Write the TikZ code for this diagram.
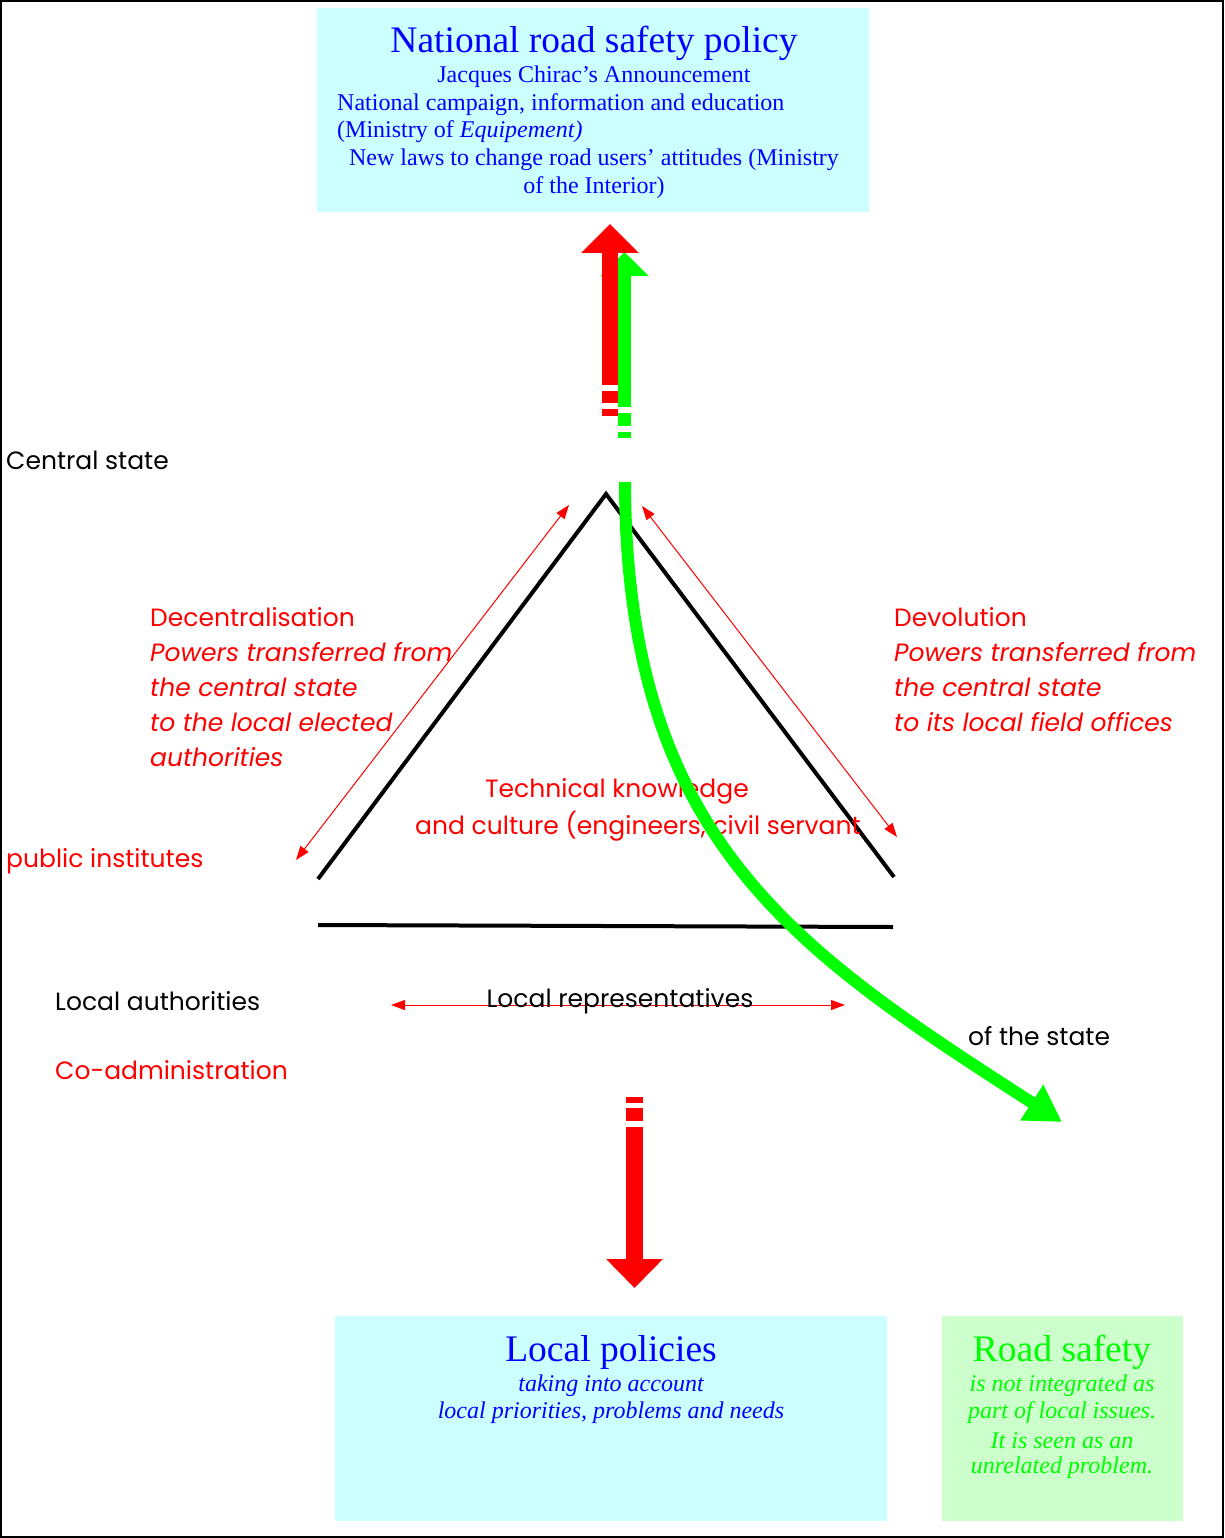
\documentclass[tikz,border=0pt]{standalone}
\usepackage{fontspec}
\setmainfont{Liberation Serif}
\setsansfont{Poppins}
\usepackage{xcolor}
\usetikzlibrary{positioning,arrows.meta,calc}

\definecolor{boxcyan}{HTML}{CCFFFF}
\definecolor{boxgreen}{HTML}{CCFFCC}
\definecolor{txtblue}{HTML}{0000FF}
\definecolor{arrred}{HTML}{FF0000}
\definecolor{arrgreen}{HTML}{00FF00}

\begin{document}
\begin{tikzpicture}[
          x=1pt, y=-1pt,
          lbl/.style={font=\sffamily\fontsize{25}{30}\selectfont, inner sep=0pt, anchor=west},
          ilbl/.style={lbl, font=\sffamily\itshape\fontsize{25}{35}\selectfont},
          boxtxt/.style={font=\fontsize{24}{28}\selectfont, txtblue, inner sep=0pt},
          boxit/.style={font=\itshape\fontsize{24}{28}\selectfont, inner sep=0pt},
          ttl/.style={font=\fontsize{37.5}{42}\selectfont, inner sep=0pt},
          panel/.style={inner sep=0pt, anchor=north west},
          tri/.style={line width=4pt, black},
          thinarr/.style={arrred, line width=1pt, {Triangle[length=14pt,width=10pt]}-{Triangle[length=14pt,width=10pt]}}
      ]
        \useasboundingbox (0,0) rectangle (1224,1538);
        \draw[line width=2pt] (1,1) rectangle (1223,1537);
        % boxes
        \node[panel, fill=boxcyan, minimum width=552pt, minimum height=204pt] (topbox) at (317,8) {};
        \node[panel, fill=boxcyan, minimum width=552pt, minimum height=205pt] (localbox) at (335,1316) {};
        \node[panel, fill=boxgreen, minimum width=241pt, minimum height=205pt] (roadbox) at (942,1316) {};
        \node[ttl, txtblue] (toptitle) at (594,43) {National road safety policy};
        \node[boxtxt] (chirac) at (594,77) {Jacques Chirac’s Announcement};
        \node[boxtxt, anchor=west] (campaign) at (337,105) {National campaign, information and education};
        \node[boxtxt, anchor=west] (ministry) at (337,132) {(Ministry of \textit{Equipement)}};
        \node[boxtxt] (laws) at (594,160) {New laws to change road users’ attitudes (Ministry};
        \node[boxtxt] (interior) at (594,188) {of the Interior)};
        \node[ttl, txtblue] (localtitle) at (611,1352) {Local policies};
        \node[boxit, txtblue] (local1) at (611,1386) {taking into account};
        \node[boxit, txtblue] (local2) at (611,1413) {local priorities, problems and needs};
        \node[ttl, arrgreen] (roadtitle) at (1062,1352) {Road safety};
        \node[boxit, arrgreen] (road1) at (1062,1386) {is not integrated as};
        \node[boxit, arrgreen] (road2) at (1062,1413) {part of local issues.};
        \node[boxit, arrgreen] (road3) at (1062,1441) {It is seen as an};
        \node[boxit, arrgreen] (road4) at (1062,1468) {unrelated problem.};
        % triangle
        \coordinate (apex) at (606,494);
        \coordinate (legl) at (318,879);
        \coordinate (legr) at (894,877);
        \coordinate (basel) at (318,925);
        \coordinate (baser) at (893,927);
        \draw[tri] (legl) -- (apex) -- (legr);
        \draw[tri] (basel) -- (baser);
        % labels
        \node[lbl] (central) at (6,460) {Central state};
        \node[lbl, arrred] (decentr) at (150,617) {Decentralisation};
        \node[ilbl, arrred, align=left, anchor=north west] (decpow) at (150,642) {Powers transferred from\\the central state\\to the local elected\\authorities};
        \node[lbl, arrred] (devol) at (894,617) {Devolution};
        \node[ilbl, arrred, align=left, anchor=north west] (devpow) at (894,642) {Powers transferred from\\the central state\\to its local field offices};
        \node[lbl, arrred, anchor=center] (tech) at (617,791) {Technical knowledge};
        \node[lbl, arrred] (culture) at (415,826) {and culture (engineers, civil servant};
        \node[lbl, arrred] (public) at (6,861) {public institutes};
        \node[lbl] (localauth) at (55,1001) {Local authorities};
        \node[lbl, arrred] (coadmin) at (55,1070) {Co-administration};
        \node[lbl] (ofstate) at (968,1036) {of the state};
        % thin red arrows
        \coordinate (decup) at (569,505);
        \coordinate (decdown) at (296,860);
        \coordinate (devup) at (642,506);
        \coordinate (devdown) at (897,837);
        \coordinate (repl) at (391,1005);
        \coordinate (repr) at (845,1005);
        \draw[thinarr] (decup) -- (decdown);
        \draw[thinarr] (devup) -- (devdown);
        \draw[thinarr] (repl) -- (repr);
        \node[lbl, anchor=center] (localrep) at (620,1001) {Local representatives};
        % fat arrows
        \coordinate (gupfoot) at (624.5,407);
        \coordinate (guptip) at (624.5,252);
        \fill[arrgreen] (618,413) rectangle (631,426);
        \fill[arrgreen] (618,432) rectangle (631,438);
        \draw[arrgreen, line width=13pt, -{Triangle[length=24pt,width=47pt]}] (gupfoot) -- (guptip);
        \coordinate (rupfoot) at (610,385);
        \coordinate (ruptip) at (610,224);
        \fill[arrred] (602,391) rectangle (618,403);
        \fill[arrred] (602,409) rectangle (618,416);
        \draw[arrred, line width=16pt, -{Triangle[length=29pt,width=56pt]}] (rupfoot) -- (ruptip);
        \coordinate (rdownfoot) at (634.5,1127);
        \coordinate (rdowntip) at (634.5,1288);
        \fill[arrred] (626,1097) rectangle (643,1103);
        \fill[arrred] (626,1108) rectangle (643,1121);
        \draw[arrred, line width=17pt, -{Triangle[length=29pt,width=55pt]}] (rdownfoot) -- (rdowntip);
        \coordinate (gstart) at (625,482);
        \coordinate (gend) at (1062,1122);
        \draw[arrgreen, line width=12pt, -{Triangle[length=36pt,width=40pt]}] (gstart) .. controls (626,840) and (795,950) .. (gend);
      \end{tikzpicture}
\end{document}
